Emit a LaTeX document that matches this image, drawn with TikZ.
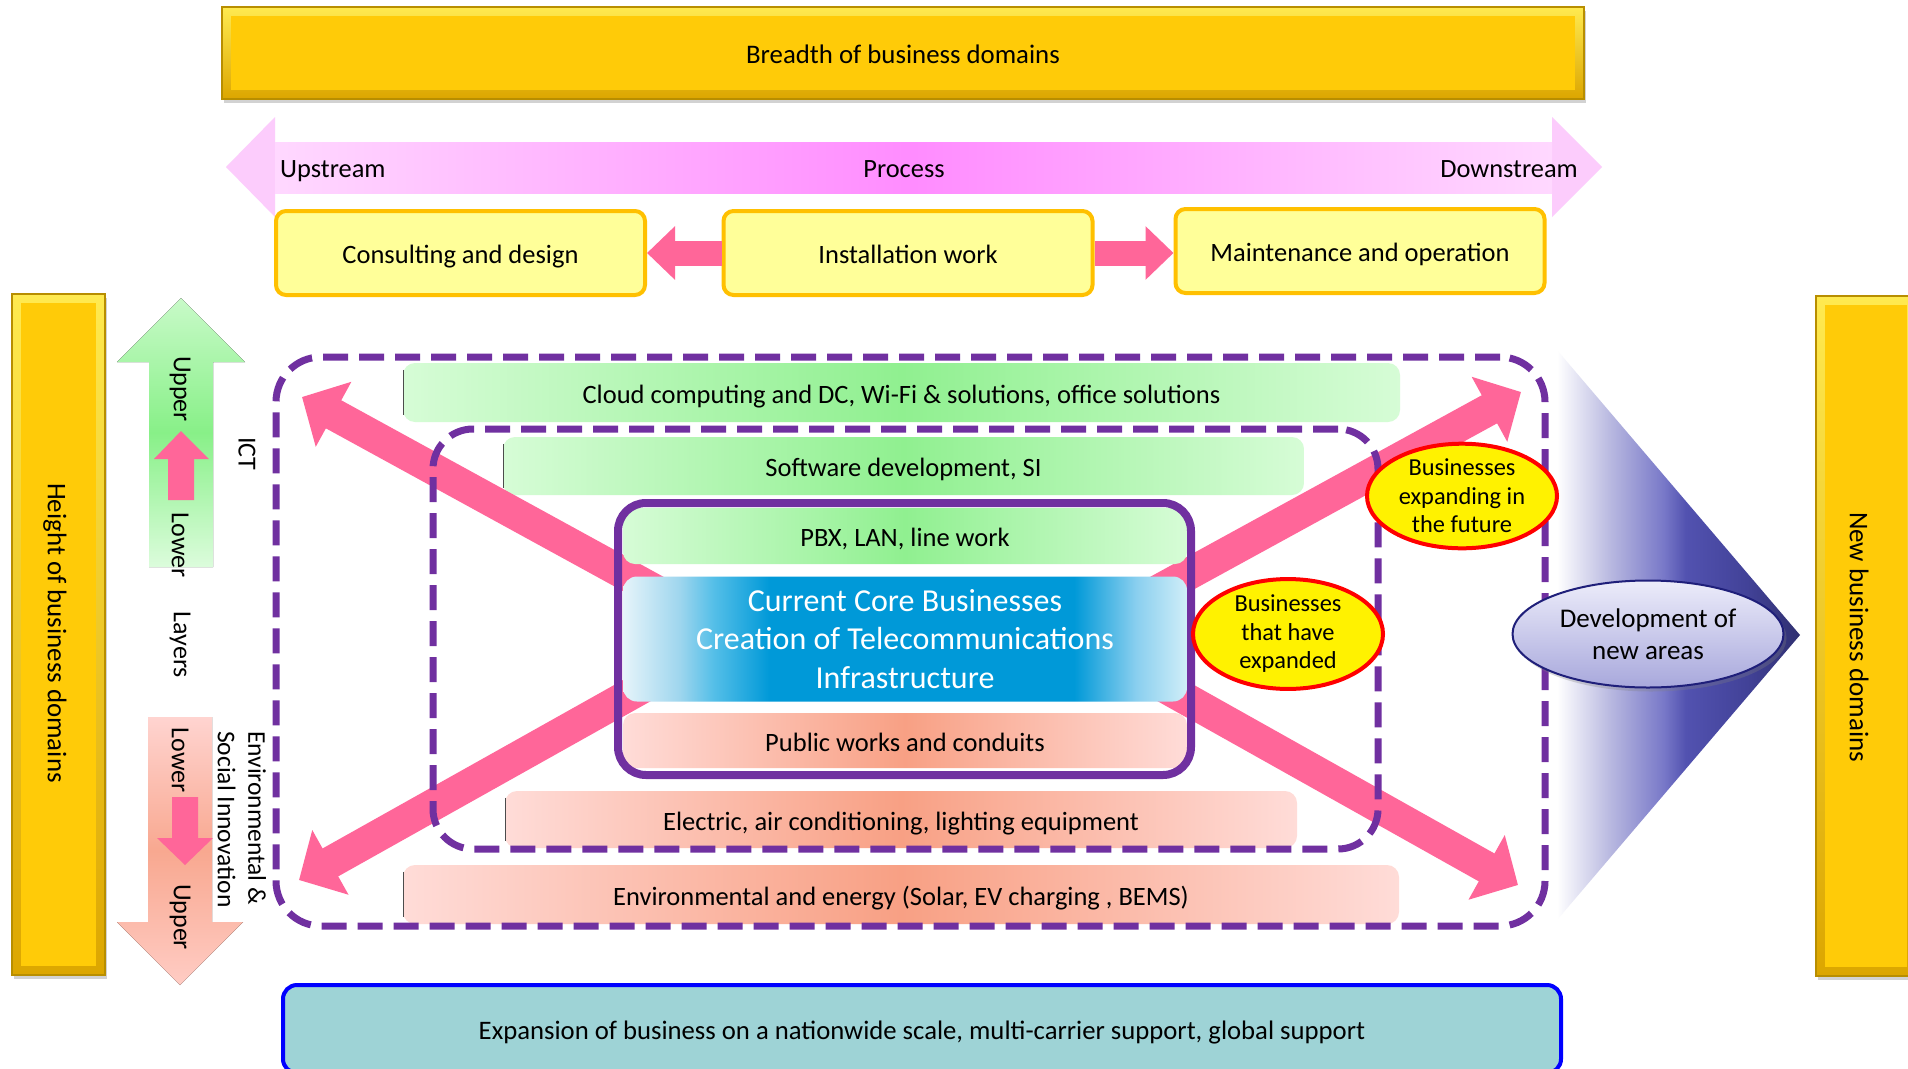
\documentclass[tikz,border=0pt]{standalone}
\usepackage{fontspec}
\setmainfont{Carlito}
\usetikzlibrary{shapes.geometric,shadows,arrows.meta,calc}
\definecolor{gold}{HTML}{FFCB08}
\definecolor{goldlight}{HTML}{FFEA50}
\definecolor{goldshade}{HTML}{DCA600}
\definecolor{golddark}{HTML}{B88E00}
\definecolor{purp}{HTML}{7030A0}
\definecolor{pinkar}{HTML}{FF6699}
\definecolor{boxyellow}{HTML}{FFFF99}
\definecolor{boxorange}{HTML}{FFC000}
\definecolor{gLight}{HTML}{D6FCD6}
\definecolor{gMid}{HTML}{90F090}
\definecolor{sLight}{HTML}{FFDCD8}
\definecolor{sMid}{HTML}{F8A084}
\definecolor{tealfill}{HTML}{9ED3D6}
\definecolor{bblue}{HTML}{0099D8}
\definecolor{bEdge}{HTML}{E6F4FA}
\definecolor{bOne}{HTML}{9FD6EE}
\definecolor{bTwo}{HTML}{55BFE8}
\definecolor{bThree}{HTML}{8ACFEF}
\definecolor{bEdgeR}{HTML}{D0EEF8}
\definecolor{tOne}{HTML}{B8B8E0}
\definecolor{tTwo}{HTML}{7878C8}
\definecolor{tThree}{HTML}{5252B0}
\definecolor{tFour}{HTML}{424298}
\definecolor{tFive}{HTML}{303070}
\definecolor{procLight}{HTML}{FFD8FF}
\definecolor{procMid}{HTML}{FF8CFF}
\definecolor{procHead}{HTML}{FCCCFC}
\definecolor{devTop}{HTML}{ECECFA}
\definecolor{devBot}{HTML}{A8A8DC}
\definecolor{devLine}{HTML}{1F1F7A}
\definecolor{grTop}{HTML}{C8FAC8}
\definecolor{grMid}{HTML}{88F088}
\definecolor{grBot}{HTML}{DCFCDC}
\definecolor{saTop}{HTML}{FFD4D0}
\definecolor{saMid}{HTML}{F8A890}
\definecolor{saBot}{HTML}{FFCCC4}
\pgfdeclarehorizontalshading{blueband}{100bp}{color(0bp)=(bEdge); color(25bp)=(bEdge); color(30bp)=(bOne); color(33bp)=(bTwo); color(38bp)=(bblue); color(65bp)=(bblue); color(70.5bp)=(bThree); color(75bp)=(bEdgeR); color(100bp)=(bEdgeR)}
\pgfdeclarehorizontalshading{triband}{100bp}{color(0bp)=(white); color(25bp)=(white); color(36bp)=(tOne); color(47bp)=(tTwo); color(51.5bp)=(tThree); color(64bp)=(tFour); color(75bp)=(tFive); color(100bp)=(tFive)}
\tikzset{
  oneline/.style={text height=24pt, text depth=3pt},
  goldbar/.style={rectangle, draw=golddark, line width=1.2pt, top color=goldlight, bottom color=goldshade, inner sep=0pt,
    drop shadow={shadow xshift=2pt, shadow yshift=-4pt, opacity=0.35},
    path picture={\fill[gold] ($(path picture bounding box.north west)+(9,9)$) rectangle ($(path picture bounding box.south east)+(-9,-9)$);}},
  pbox/.style={rectangle, rounded corners=10pt, draw=boxorange, line width=4pt, fill=boxyellow, oneline,
    minimum width=369pt, minimum height=84pt, inner sep=0pt, font=\fontsize{26.5}{31}\selectfont},
  gbar/.style={rectangle, rounded corners=12pt, left color=gLight, right color=gLight, middle color=gMid, oneline,
    inner sep=0pt, font=\fontsize{26.5}{31}\selectfont},
  sbar/.style={rectangle, rounded corners=12pt, left color=sLight, right color=sLight, middle color=sMid, oneline,
    inner sep=0pt, font=\fontsize{26.5}{31}\selectfont},
  dashbox/.style={rectangle, draw=purp, line width=7pt, dash pattern=on 25pt off 11pt, rounded corners=45pt, inner sep=0pt},
  bigarrow/.style={draw=pinkar, line width=32pt, -{Triangle[length=36pt, width=72pt]}},
  smallarrow/.style={draw=pinkar, line width=25pt, -{Triangle[length=28pt, width=52pt]}},
  ell/.style={ellipse, draw=red, line width=4pt, fill=yellow, inner sep=0pt, minimum width=190pt,
    minimum height=78pt, align=center, font=\fontsize{24.4}{28.5}\selectfont},
  vlabel/.style={rotate=-90, font=\fontsize{26}{30}\selectfont, inner sep=0pt},
  plabel/.style={font=\fontsize{26.4}{31}\selectfont, inner sep=0pt, oneline},
  leftedge/.style={draw=black!70, line width=1.2pt}
}
\begin{document}
\begin{tikzpicture}[x=1pt,y=-1pt]
\useasboundingbox (0,0) rectangle (1908,1068);
\fill[white] (0,0) rectangle (1908,1068);

% ---------- top bar ----------
\node[goldbar, oneline, minimum width=1362pt, minimum height=92pt, font=\fontsize{26.8}{31}\selectfont] (breadth) at (903,53) {Breadth of business domains};

% ---------- process arrow ----------
\fill[procHead] (226,167) -- (275,117) -- (275,142) -- (1552,142) -- (1552,117) -- (1602,167) -- (1552,217) -- (1552,193) -- (275,193) -- (275,217) -- cycle;
\fill[left color=procLight, right color=procLight, middle color=procMid] (275,142) rectangle (1552,193);
\node[plabel, anchor=west] (up) at (280,167) {Upstream};
\node[plabel] (proc) at (904,167) {Process};
\node[plabel, anchor=east] (down) at (1578,167) {Downstream};

% ---------- process boxes ----------
\node[pbox] (cons) at (460.5,253) {Consulting and design};
\node[pbox] (inst) at (908,253) {Installation work};
\node[pbox] (maint) at (1360,251) {Maintenance and operation};
\draw[smallarrow] (inst.west) -- (cons.east);
\draw[smallarrow] (inst.east) -- (inst.east -| maint.west);

% ---------- side bars ----------
\node[goldbar, minimum width=93pt, minimum height=681pt] (leftbar) at (58.5,634.5) {};
\node[vlabel, font=\fontsize{26.9}{31}\selectfont] (leftlbl) at (55,633) {Height of business domains};
\node[goldbar, minimum width=100pt, minimum height=680pt] (rightbar) at (1866,636) {};
\node[vlabel, font=\fontsize{27}{31}\selectfont] (rightlbl) at (1859,637) {New business domains};

% ---------- layer arrows ----------
\fill[top color=grTop, bottom color=grBot, middle color=grMid] (181,298) -- (245,362) -- (213,362) -- (213,567) -- (149,567) -- (149,362) -- (117,362) -- cycle;
\fill[top color=saTop, bottom color=saBot, middle color=saMid] (148,717) -- (212,717) -- (212,922) -- (243,922) -- (180,985) -- (117,922) -- (148,922) -- cycle;
\fill[pinkar] (181,431) -- (209,459) -- (194,459) -- (194,500) -- (168,500) -- (168,459) -- (154,459) -- cycle;
\fill[pinkar] (172,797) -- (198,797) -- (198,838) -- (213,838) -- (185,865) -- (157,838) -- (172,838) -- cycle;
\node[vlabel] (u1) at (180,389) {Upper};
\node[vlabel] (l1) at (180,545) {Lower};
\node[vlabel] (lay) at (180,645) {Layers};
\node[vlabel] (ict) at (247,454) {ICT};
\node[vlabel] (l2) at (180,760) {Lower};
\node[vlabel] (u2) at (180,917) {Upper};
\node[vlabel, anchor=west, align=left, font=\fontsize{25.5}{30.5}\selectfont] (envsoc) at (242,731) {Environmental \&\\Social Innovation};

% ---------- triangle ----------
\shade[shading=triband] (1557,350) -- (1800,635) -- (1557,920) -- cycle;

% ---------- layer bars ----------
\node[gbar, minimum width=997pt, minimum height=59pt] (cloud) at (901.5,392.5) {Cloud computing and DC, Wi-Fi \& solutions, office solutions};
\node[gbar, minimum width=801pt, minimum height=58pt] (soft) at (903.5,466) {Software development, SI};
\node[sbar, minimum width=792pt, minimum height=57pt] (elec) at (901,819.5) {Electric, air conditioning, lighting equipment};
\node[sbar, minimum width=996pt, minimum height=59pt] (envb) at (901,894.5) {Environmental and energy (Solar, EV charging , BEMS)};
\foreach \b in {cloud,soft,elec,envb}{
  \draw[leftedge] ($(\b.north west)+(1,7)$) -- ($(\b.south west)+(1,-7)$);
}

% ---------- big diagonal arrows ----------
\coordinate (ulS) at (720,626);
\coordinate (ulT) at (302,397);
\coordinate (urS) at (1090,628);
\coordinate (urT) at (1521,392);
\coordinate (llS) at (720,644);
\coordinate (llT) at (299,880);
\coordinate (lrS) at (1090,645);
\coordinate (lrT) at (1518,885);
\draw[bigarrow] (ulS) -- (ulT);
\draw[bigarrow] (urS) -- (urT);
\draw[bigarrow] (llS) -- (llT);
\draw[bigarrow] (lrS) -- (lrT);

% ---------- dashed frames ----------
\node[dashbox, minimum width=1269pt, minimum height=569pt] (outer) at (910.5,641.5) {};
\node[dashbox, rounded corners=40pt, minimum width=945pt, minimum height=420pt] (inner) at (905.5,639) {};

% ---------- core ----------
\node[gbar, rounded corners=12pt, minimum width=564pt, minimum height=56pt] (pbx) at (905,536) {PBX, LAN, line work};
\node[rectangle, rounded corners=14pt, shading=blueband, minimum width=564pt, minimum height=125pt, inner sep=0pt,
  text=white, align=center, font=\fontsize{32}{38.3}\selectfont] (corebiz) at (905,639) {Current Core Businesses\\Creation of Telecommunications\\Infrastructure};
\node[sbar, rounded corners=12pt, minimum width=564pt, minimum height=55pt] (pubw) at (905,740.5) {Public works and conduits};
\node[rectangle, draw=purp, line width=8pt, rounded corners=28pt, minimum width=573pt, minimum height=272pt, inner sep=0pt] (core) at (904.5,639) {};

% ---------- ellipses ----------
\node[ell] (future) at (1462,496) {Businesses\\expanding in\\the future};
\node[ell] (expanded) at (1288,634) {Businesses\\that have\\expanded};
\node[ellipse, top color=devTop, bottom color=devBot, draw=devLine, line width=2pt, minimum width=271pt, minimum height=107pt,
  inner sep=0pt, align=center, font=\fontsize{27}{31.6}\selectfont,
  drop shadow={shadow xshift=3pt, shadow yshift=-4pt, opacity=0.3}] (dev) at (1648,634) {Development of\\new areas};

% ---------- bottom bar ----------
\node[rectangle, rounded corners=14pt, draw=blue, line width=4pt, fill=tealfill, oneline, minimum width=1278pt, minimum height=88pt,
  inner sep=0pt, font=\fontsize{26.7}{31}\selectfont] (bottom) at (922,1029) {Expansion of business on a nationwide scale, multi-carrier support, global support};
\end{tikzpicture}
\end{document}
